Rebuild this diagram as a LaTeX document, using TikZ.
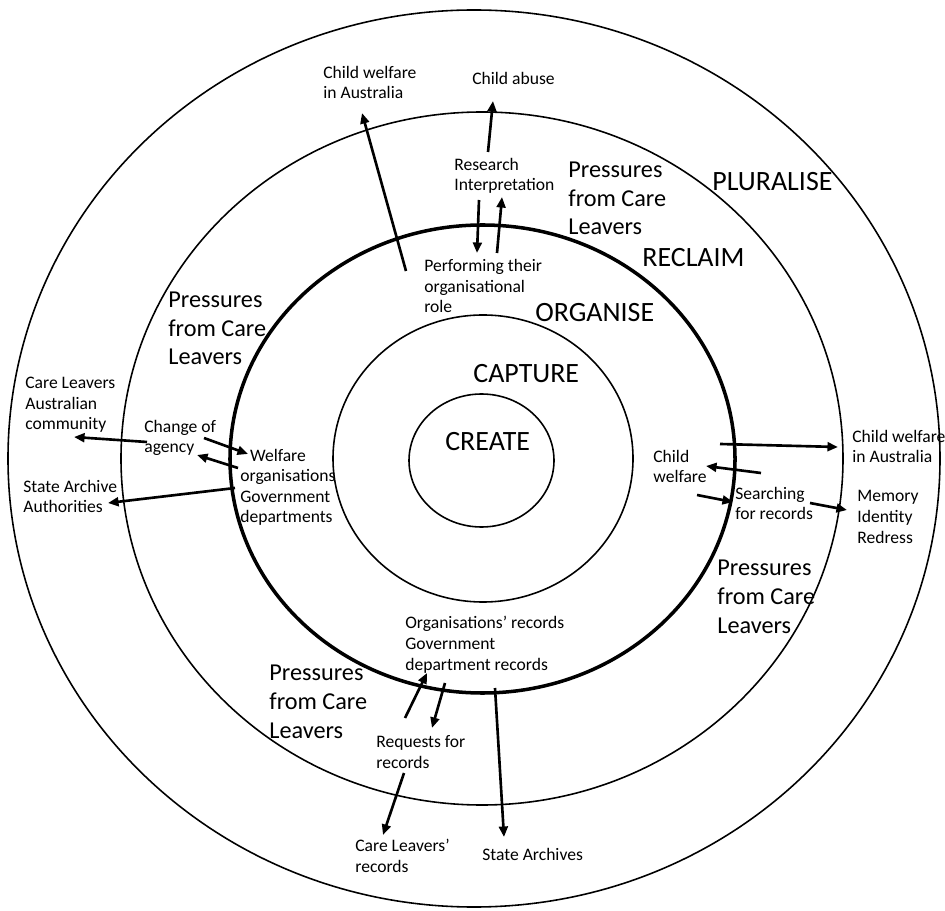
\documentclass[tikz,border=0pt]{standalone}
\usepackage{fontspec}
\setmainfont{Carlito}
\usepackage{tikz}
\usetikzlibrary{arrows.meta,positioning,shapes.geometric}

\tikzset{
  every node/.append style={inner sep=0pt},
  ring/.style={ellipse, draw, line width=0.9pt},
}

\begin{document}
\begin{tikzpicture}[
  x=0.2mm, y=-0.2mm,
  lbl/.style  ={font=\fontsize{10}{11.7}\selectfont, align=left, anchor=base west},
  press/.style={font=\fontsize{13.8}{16.3}\selectfont, align=left, anchor=base west},
  stage/.style={font=\fontsize{15.9}{18}\selectfont, anchor=base west},
  arrow/.style={-{Triangle[length=6pt,width=5pt]}, line width=1.5pt}
]
\useasboundingbox (0,0) rectangle (945,911);

% rings, outside in
\node[ring, minimum width=186.4mm, minimum height=179.4mm] (plur) at (474,458.5) {};
\node[ring, minimum width=144.4mm, minimum height=138.6mm] (recl) at (482,458.5) {};
\node[ring, line width=2pt, minimum width=101mm, minimum height=93.6mm] (orgn) at (482.5,459) {};
\node[ring, minimum width=60mm, minimum height=57.4mm] (capt) at (483,458.5) {};
\node[ring, minimum width=29mm, minimum height=26.6mm] (crea) at (481.5,460.5) {};

% stage names
\node[stage] (pluralise) at (712,191) {PLURALISE};
\node[stage] (reclaim)   at (642,267) {RECLAIM};
\node[stage] (organise)  at (535,322) {ORGANISE};
\node[stage] (capture)   at (473,383) {CAPTURE};
\node[stage] (create)    at (445,451) {CREATE};

% pressures (placed by last baseline)
\node[press] (prTop)    at (568,235) {Pressures\\from Care\\Leavers};
\node[press] (prLeft)   at (168,365) {Pressures\\from Care\\Leavers};
\node[press] (prRight)  at (717,633) {Pressures\\from Care\\Leavers};
\node[press] (prBottom) at (269,738) {Pressures\\from Care\\Leavers};

% top
\node[lbl] (cwTop)    at (323,99)  {Child welfare\\in Australia};
\node[lbl] (abuse)    at (472,85)  {Child abuse};
\node[lbl] (research) at (454,191) {Research\\Interpretation};
\node[lbl] (perform)  at (424,313) {Performing their\\organisational\\role};

% left
\node[lbl] (community) at (25,430)  {Care Leavers\\Australian\\community};
\node[lbl] (change)    at (144,453) {Change of\\agency};
\node[lbl] (welfare)   at (240,523) {\hspace{5.5pt}Welfare\\organisations\\Government\\departments};
\node[lbl] (archAuth)  at (23,513)  {State Archive\\Authorities};

% right
\node[lbl] (cwRight)   at (852,463) {Child welfare\\in Australia};
\node[lbl] (cwShort)   at (653,483) {Child\\welfare};
\node[lbl] (searching) at (735,520) {Searching\\for records};
\node[lbl] (memory)    at (857,543) {Memory\\Identity\\Redress};

% bottom
\node[lbl] (orgRec)    at (405,670) {Organisations’ records\\Government\\department records};
\node[lbl] (requests)  at (376,768) {Requests for\\records};
\node[lbl] (clRec)     at (355,872) {Care Leavers’\\records};
\node[lbl] (stateArch) at (482,860) {State Archives};

% arrow ends
\coordinate (perfOut) at (406,271);  \coordinate (cwTopIn)  at (362,113);
\coordinate (resOut)  at (488,152);  \coordinate (abuseIn)  at (493,101);
\coordinate (resDn)   at (479,200);  \coordinate (perfIn)   at (477,253);
\coordinate (perfUp)  at (497,253);  \coordinate (resIn)    at (502,197);
\coordinate (chgOut)  at (147,442);  \coordinate (commIn)   at (74,437);
\coordinate (chgRt)   at (204,438);  \coordinate (welfIn)   at (248,454);
\coordinate (welfOut) at (238,468);  \coordinate (chgIn)    at (197,455);
\coordinate (govOut)  at (235,488);  \coordinate (authIn)   at (108,503);
\coordinate (orgOut)  at (720,444);  \coordinate (cwRtIn)   at (838,447);
\coordinate (srchOut) at (761,473);  \coordinate (cwShIn)   at (706,466);
\coordinate (cwShOut) at (697,495);  \coordinate (srchIn)   at (733,502);
\coordinate (srchRt)  at (810,503);  \coordinate (memIn)    at (847,510);
\coordinate (reqUp)   at (405,718);  \coordinate (recIn)    at (427,673);
\coordinate (recDn)   at (445,683);  \coordinate (reqIn)    at (432,728);
\coordinate (reqOut)  at (404,773);  \coordinate (clIn)     at (383,835);
\coordinate (recOut)  at (495,688);  \coordinate (saIn)     at (504,837);

\foreach \a/\b in {perfOut/cwTopIn, resOut/abuseIn, resDn/perfIn, perfUp/resIn,
  chgOut/commIn, chgRt/welfIn, welfOut/chgIn, govOut/authIn,
  orgOut/cwRtIn, srchOut/cwShIn, cwShOut/srchIn, srchRt/memIn,
  reqUp/recIn, recDn/reqIn, reqOut/clIn, recOut/saIn}{
  \draw[arrow] (\a) -- (\b);
}

\end{tikzpicture}
\end{document}
